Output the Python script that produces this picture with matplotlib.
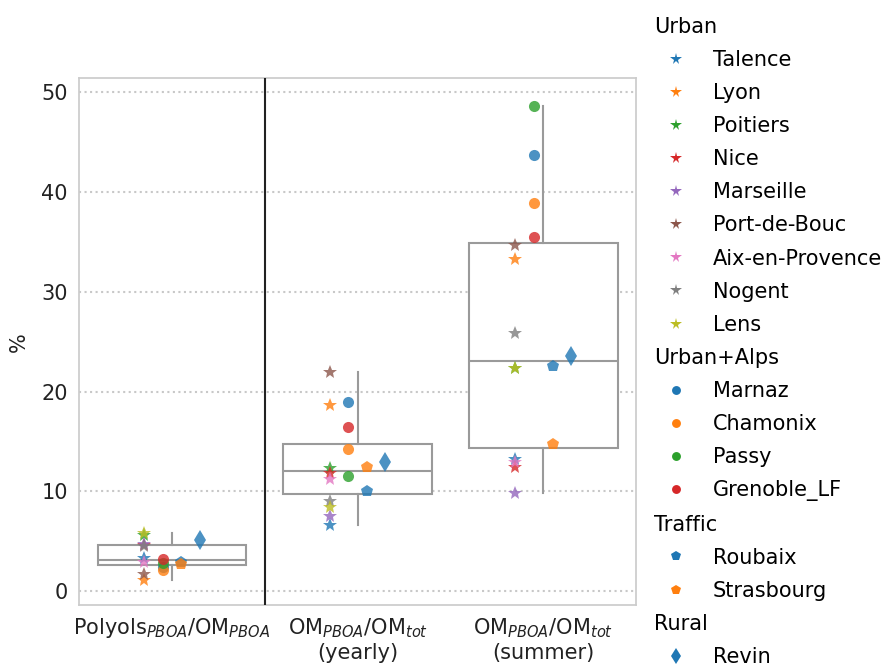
import numpy as np
import matplotlib.pyplot as plt
from matplotlib.lines import Line2D

# ratios shown on the x axis
categories = ['Polyols$_{PBOA}$/OM$_{PBOA}$',
              'OM$_{PBOA}$/OM$_{tot}$\n(yearly)',
              'OM$_{PBOA}$/OM$_{tot}$\n(summer)']

# site groups, marker per group
groups = ['Urban', 'Urban+Alps', 'Traffic', 'Rural']
group_markers = {'Urban': '*', 'Urban+Alps': 'o', 'Traffic': 'p', 'Rural': 'd'}

urban_sites = ['Talence', 'Lyon', 'Poitiers', 'Nice', 'Marseille',
               'Port-de-Bouc', 'Aix-en-Provence', 'Nogent', 'Lens']
urban_vals = [[3.35, 6.6, 13.2],
              [1.15, 18.7, 33.3],
              [5.65, 12.3, 22.4],
              [4.6, 11.8, 12.4],
              [4.7, 7.5, 9.8],
              [1.7, 22.0, 34.7],
              [2.95, 11.2, 12.9],
              [4.5, 9.0, 25.9],
              [5.85, 8.4, 22.4]]

alps_sites = ['Marnaz', 'Chamonix', 'Passy', 'Grenoble_LF']
alps_vals = [[2.4, 19.0, 43.7],
             [2.1, 14.2, 38.9],
             [2.85, 11.5, 48.6],
             [3.25, 16.5, 35.5]]

traffic_sites = ['Roubaix', 'Strasbourg']
traffic_vals = [[2.9, 10.0, 22.6],
                [2.7, 12.45, 14.7]]

rural_sites = ['Revin']
rural_vals = [[5.1, 12.9, 23.6]]

site_groups = [(urban_sites, urban_vals),
               (alps_sites, alps_vals),
               (traffic_sites, traffic_vals),
               (rural_sites, rural_vals)]
offsets = [-0.15, -0.05, 0.05, 0.15]
msizes = {'*': 10.5, 'o': 8, 'p': 9, 'd': 10}

palette = plt.get_cmap('tab10').colors
FS = 15

fig = plt.figure(figsize=(8.83, 6.68), dpi=100)
ax = fig.add_axes([0.0895, 0.094, 0.631, 0.789])

# boxplots from all sites
all_vals = np.array(urban_vals + alps_vals + traffic_vals + rural_vals)
box_color = '#9a9a9a'
ax.boxplot([all_vals[:, i] for i in range(3)], positions=range(3), widths=0.8,
           showcaps=False, showfliers=False, patch_artist=True,
           boxprops=dict(facecolor='white', edgecolor=box_color, linewidth=1.5),
           whiskerprops=dict(color=box_color, linewidth=1.5),
           medianprops=dict(color=box_color, linewidth=1.5), zorder=2)

handles = []
header_labels = []
for gi, (g, (sites, vals)) in enumerate(zip(groups, site_groups)):
    m = group_markers[g]
    handles.append(Line2D([], [], linestyle='none', marker=None, label=g))
    header_labels.append(g)
    for si, (s, v) in enumerate(zip(sites, vals)):
        col = palette[si]
        ax.plot(np.arange(3) + offsets[gi], v, linestyle='none', marker=m,
                markersize=msizes[m], color=col, alpha=0.8,
                markeredgewidth=0, zorder=3)
        handles.append(Line2D([], [], linestyle='none', marker=m,
                              markersize=msizes[m] * 0.8, color=col,
                              markeredgewidth=0, label=s))

ax.axvline(0.5, color='#222222', linewidth=1.5, zorder=4)

ax.set_xlim(-0.5, 2.5)
ax.set_ylim(-1.4, 51.4)
ax.set_yticks([0, 10, 20, 30, 40, 50])
ax.set_xticks(range(3))
ax.set_xticklabels(categories, fontsize=FS)
ax.tick_params(axis='both', length=0, labelsize=FS, colors='#222222', pad=8)
ax.set_ylabel('%', fontsize=FS, color='#222222', labelpad=9)
ax.yaxis.grid(True, linestyle=':', color='#c8c8c8', linewidth=1.5)
ax.set_axisbelow(True)
for sp in ax.spines.values():
    sp.set_color('#cccccc')
    sp.set_linewidth(1.25)

leg = fig.legend(handles=handles, loc='upper left',
                 bbox_to_anchor=(0.732, 0.975), frameon=False,
                 fontsize=FS, borderpad=0, borderaxespad=0,
                 handlelength=2.84, handletextpad=0.36, labelspacing=0.63)
for col_box in leg._legend_handle_box.get_children():
    for row in col_box.get_children():
        da, ta = row.get_children()
        if ta.get_text() in header_labels:
            da.set_width(0)

fig.savefig('out.png', dpi=100)
